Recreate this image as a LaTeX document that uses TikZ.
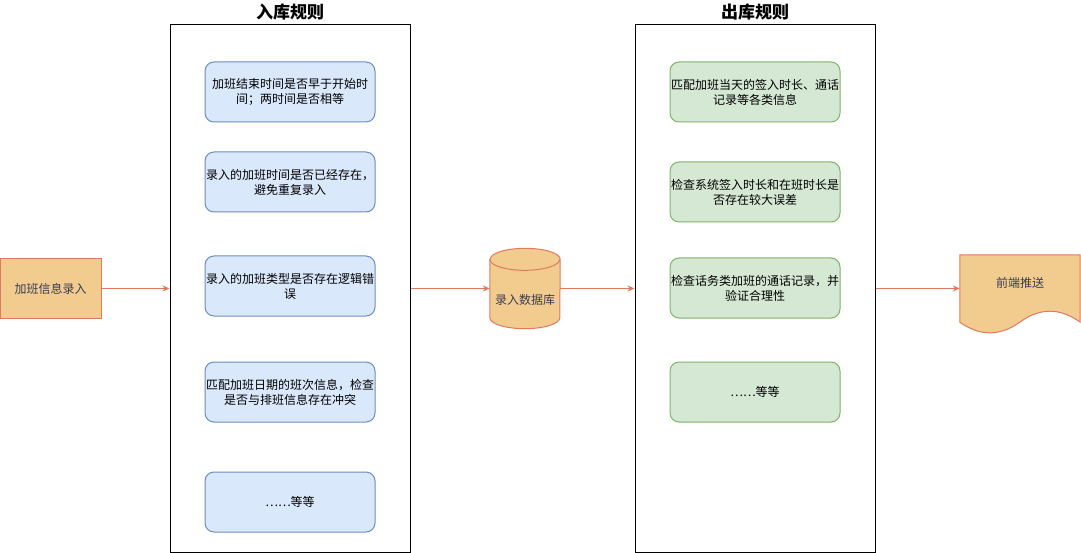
\documentclass[tikz,border=0pt]{standalone}
\usepackage{fontspec}
\newfontfamily\cjk{Noto Sans CJK SC}
\usepackage{tikz}
\usetikzlibrary{arrows.meta}

\definecolor{sand}{HTML}{F2CC8F}
\definecolor{coral}{HTML}{E07A5F}
\definecolor{slate}{HTML}{393C56}
\definecolor{bluefill}{HTML}{DAE8FC}
\definecolor{bluedraw}{HTML}{6C8EBF}
\definecolor{greenfill}{HTML}{D5E8D4}
\definecolor{greendraw}{HTML}{82B366}

\begin{document}
\begin{tikzpicture}
            [every node/.style={inner sep=0pt, align=center, font=\cjk\fontsize{12}{15}\selectfont},
             >={Stealth[length=7pt, width=6pt]},
             orange/.style={fill=sand, draw=coral, line width=1pt, text=slate},
             frame/.style={rectangle, minimum width=240pt, minimum height=527pt, fill=white, draw=black, line width=1pt},
             title/.style={font=\cjk\fontsize{17}{19}\selectfont\bfseries},
             bluebox/.style={rectangle, rounded corners=9pt, minimum width=170pt, minimum height=60pt, fill=bluefill, draw=bluedraw, line width=1pt},
             greenbox/.style={rectangle, rounded corners=9pt, minimum width=170pt, minimum height=60pt, fill=greenfill, draw=greendraw, line width=1pt},
             link/.style={line width=1pt, ->, color=coral}]
                \useasboundingbox (0pt, 0pt) rectangle (1081pt, -553pt);
                \node (1) [rectangle, orange, minimum width=101pt, minimum height=60pt] at (50.5pt, -288.5pt) {加班信息录入};
                \node (2) [frame] at (290pt, -288.5pt) {};
                \node at (290pt, -12pt) [title] {入库规则};
                \node (3) [bluebox] at (290pt, -92pt) {加班结束时间是否早于开始时\\间；两时间是否相等};
                \node (4) [bluebox] at (290pt, -182pt) {录入的加班时间是否已经存在，\\避免重复录入};
                \node (5) [bluebox] at (290pt, -286pt) {录入的加班类型是否存在逻辑错\\误};
                \node (6) [bluebox] at (290pt, -392pt) {匹配加班日期的班次信息，检查\\是否与排班信息存在冲突};
                \node (7) [bluebox] at (290pt, -502pt) {……等等};
                \node (8) [rectangle, minimum width=70pt, minimum height=80pt] at (525pt, -288.5pt) {};
                \draw [orange] ([yshift=-11pt]8.north west) -- ([yshift=11pt]8.south west)
                    arc [start angle=180, end angle=360, x radius=35pt, y radius=11pt]
                    -- ([yshift=-11pt]8.north east)
                    arc [start angle=0, end angle=180, x radius=35pt, y radius=11pt] -- cycle;
                \draw [draw=coral, line width=1pt] ([yshift=-11pt]8.north west)
                    arc [start angle=180, end angle=360, x radius=35pt, y radius=11pt];
                \node at (525pt, -300pt) [text=slate] {录入数据库};
                \node (9) [frame] at (755pt, -288.5pt) {};
                \node at (755pt, -12pt) [title] {出库规则};
                \node (10) [greenbox] at (755pt, -92pt) {匹配加班当天的签入时长、通话\\记录等各类信息};
                \node (11) [greenbox] at (755pt, -192pt) {检查系统签入时长和在班时长是\\否存在较大误差};
                \node (12) [greenbox] at (755pt, -288pt) {检查话务类加班的通话记录，并\\验证合理性};
                \node (13) [greenbox] at (755pt, -392pt) {……等等};
                \node (14) [rectangle, minimum width=120pt, minimum height=67pt] at (1020pt, -288.5pt) {};
                \draw [orange] (14.north west) -- (14.north east) -- (14.south east)
                    .. controls (1060pt, -307.6pt) and (1040pt, -307.6pt) .. (1020pt, -322pt)
                    .. controls (1000pt, -336.4pt) and (980pt, -336.4pt) .. (14.south west) -- cycle;
                \node at (1020pt, -283pt) [text=slate] {前端推送};
                \draw [link] (1) to (2);
                \draw [link] (2) to (8);
                \draw [link] (8) to (9);
                \draw [link] (9) to (14);
            \end{tikzpicture}
\end{document}
